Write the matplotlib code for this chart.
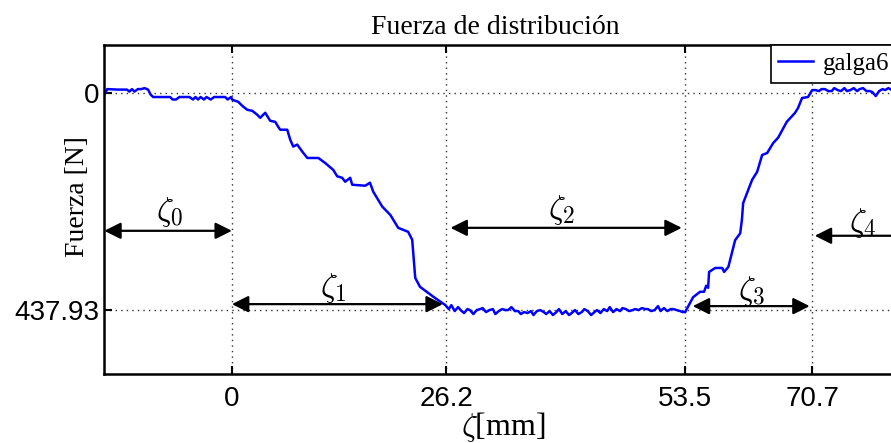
#!/usr/bin/env python3
import matplotlib
matplotlib.use("Agg")
import matplotlib.pyplot as plt

plt.rcParams['font.family'] = 'serif'
plt.rcParams['font.serif'] = ['Liberation Serif', 'DejaVu Serif']
plt.rcParams['mathtext.fontset'] = 'cm'

# curve: position [mm] vs force [N] (force axis points down)
start_mm = [-15.07, -14.72, -13.5, -12.4, -12.1, -11.8, -11.5, -11.1, -10.7, -10.3,
            -9.9, -9.6, -9.3, -8.0, -7.3, -7.0, -6.6, -6.2, -5.5, -5.0,
            -4.6, -4.3, -4.0, -3.7, -3.3, -3.0, -2.5, -2.1, -1.4, -0.8,
            -0.5, -0.1]
start_N = [4, -8, -7, -7, -3, -8, -3, -8, -8, -10,
           -7, 3, 8, 8, 8, 13, 13, 8, 8, 8,
           13, 8, 13, 8, 13, 8, 13, 8, 8, 8,
           13, 8]

fall_mm = [0.04, 0.74, 1.22, 1.8, 2.4, 2.99, 3.34, 3.93, 4.52, 5.11,
           5.46, 5.7, 6.53, 6.88, 7.24, 7.71, 8.3, 8.9, 10.2, 11.0,
           11.96, 12.43, 13.02, 13.37, 13.96, 14.2, 15.73, 16.3, 16.68, 17.74,
           18.7, 19.63, 20.8, 21.28, 21.64, 22.2, 23.77, 25.2]
fall_N = [13.5, 17.6, 25.7, 33.7, 35.8, 43.8, 49.9, 39.8, 56, 58,
          68, 74, 74, 94, 108, 104, 118, 131, 131, 141,
          155, 168, 171, 179, 171, 185, 187, 181, 199, 229,
          246, 272, 280, 296, 373, 391, 411, 428]

flat_mm = [25.6, 25.9, 26.3, 26.7, 27.0, 27.4, 27.8, 28.1, 28.5, 28.9,
           29.3, 29.6, 30.0, 30.4, 30.8, 31.1, 31.5, 31.9, 32.3, 32.6,
           33.0, 33.4, 33.8, 34.1, 34.5, 34.9, 35.3, 35.6, 36.0, 36.4,
           36.8, 37.1, 37.5, 37.9, 38.3, 38.6, 39.0, 39.4, 39.8, 40.1,
           40.5, 40.9, 41.3, 41.6, 42.0, 42.4, 42.8, 43.1, 43.5, 43.9,
           44.3, 44.6, 45.0, 45.4, 45.8, 46.1, 46.5, 46.9, 47.3, 47.6,
           48.0, 48.4, 48.8, 49.1, 49.5, 49.9, 50.3, 50.6, 51.0, 51.4,
           51.8, 52.1, 52.5, 52.9, 53.2]
flat_N = [436, 428, 440, 432, 438, 444, 436, 438, 446, 438,
          436, 434, 442, 438, 436, 446, 440, 436, 438, 438,
          432, 440, 440, 446, 442, 444, 440, 448, 440, 438,
          442, 446, 440, 448, 442, 436, 446, 440, 448, 444,
          438, 446, 442, 436, 440, 448, 442, 438, 444, 436,
          440, 432, 442, 436, 440, 434, 436, 440, 438, 436,
          438, 434, 436, 436, 440, 438, 430, 440, 434, 440,
          436, 436, 438, 440, 442]

rise_mm = [53.5, 54.44, 55.27, 55.74, 55.98, 56.21, 56.33, 57.05, 57.88, 58.1,
           58.6, 59.4, 60.0, 60.2, 60.35, 61.41, 62.0, 62.59, 63.18, 63.89,
           64.48, 65.5, 66.47, 66.83, 67.3, 68.0, 68.5]
rise_N = [442, 412, 401, 401, 389, 393, 361, 353, 353, 361,
          351, 297, 283, 256, 222, 175, 159, 125, 121, 101,
          90, 58, 40, 30, 10, 8, -6]

end_mm = [68.9, 69.3, 69.6, 70.0, 70.4, 70.8, 71.1, 71.5, 71.9, 72.3,
          72.6, 73.0, 73.4, 73.8, 74.1, 74.5, 74.9, 75.3, 75.6, 76.0,
          76.4, 76.8, 77.1, 77.5, 77.9, 78.3, 78.8]
end_N = [-6, -4, -8, -8, -4, -4, -10, -6, -4, -10,
         -4, -6, -10, -4, -8, -10, -4, -4, -2, 6,
         -4, -8, -6, -10, -6, -2, -6]

xtick_pos = [0, 25.3, 53.5, 68.5]
xtick_labels = ['0', '26.2', '53.5', '70.7']
ytick_pos = [0, 437.93]
ytick_labels = ['0', '437.93']

# zone arrows: label, x from, x to, y of arrow, label x, label y
zones = [
    (r'$\zeta_0$', -15.07, 0.0, 278, -7.4, 240),
    (r'$\zeta_1$', 0.0, 24.9, 426, 12.0, 393),
    (r'$\zeta_2$', 25.8, 53.1, 272, 38.9, 236),
    (r'$\zeta_3$', 54.4, 68.2, 430, 61.4, 399),
    (r'$\zeta_4$', 68.8, 84.0, 288, 74.5, 262),
]

x = start_mm + fall_mm + flat_mm + rise_mm + end_mm
y = start_N + fall_N + flat_N + rise_N + end_N

fig = plt.figure(figsize=(8.91, 4.43), dpi=100)
ax = fig.add_axes([104 / 891, 69 / 443, 798 / 891, 329 / 443])

ax.plot(x, y, color='#0000ff', lw=1.8, label='galga6')

ax.set_xlim(-15.1, 79.1)
ax.set_ylim(567, -97)

ax.set_xticks(xtick_pos)
ax.set_xticklabels(xtick_labels, family='Liberation Sans', fontsize=20)
ax.set_yticks(ytick_pos)
ax.set_yticklabels(ytick_labels, family='Liberation Sans', fontsize=20)
ax.tick_params(direction='in', length=6, width=1.5, top=True, right=True)
ax.tick_params(axis='x', pad=9)
ax.tick_params(axis='y', pad=3)
ax.grid(True, linestyle=(0, (1, 3)), color='#333333', lw=1.0)

for s in ax.spines.values():
    s.set_linewidth(1.8)

for lab, x0, x1, ya, lx, ly in zones:
    ax.annotate('', xy=(x1, ya), xytext=(x0, ya), annotation_clip=False,
                arrowprops=dict(arrowstyle='<|-|>', color='k', lw=1.6,
                                shrinkA=0, shrinkB=0, mutation_scale=25))
    ax.text(lx, ly, lab, fontsize=24, ha='center', va='center')

ax.set_title('Fuerza de distribución', fontsize=20, x=0.49, pad=8)
ax.set_xlabel(r'$\zeta$[mm]', fontsize=23, labelpad=-2)
ax.set_ylabel('Fuerza [N]', fontsize=20)
ax.yaxis.set_label_coords(-0.018, 0.54)

# legend box runs off the right edge in the reference; keep the text inside
leg = ax.legend(loc='upper right', bbox_to_anchor=(897 / 891, 398 / 443),
                bbox_transform=fig.transFigure, fontsize=18, fancybox=False,
                framealpha=1, borderaxespad=0, handlelength=1.4,
                handletextpad=0.4, borderpad=0.3)
leg.get_frame().set_edgecolor('k')
leg.get_frame().set_linewidth(1.2)

fig.savefig('out.png', dpi=100)
